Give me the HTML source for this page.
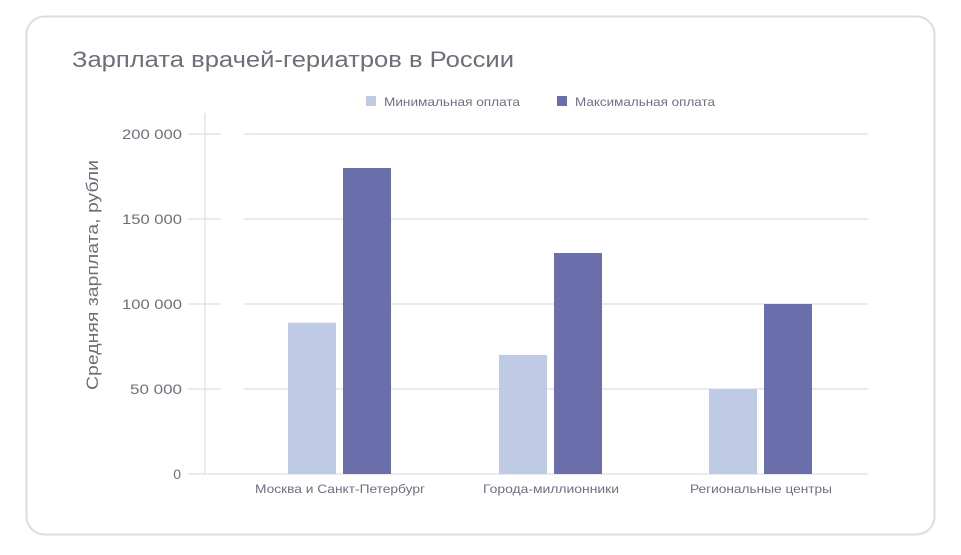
<!DOCTYPE html>
<html><head><meta charset="utf-8"><style>
body{margin:0;background:#fff;width:961px;height:550px;overflow:hidden}
</style></head><body>
<svg width="961" height="550" xmlns="http://www.w3.org/2000/svg" font-family="Liberation Sans, sans-serif">
<rect x="26.5" y="16.5" width="908" height="518" rx="18" fill="#fff" stroke="#dcdbe9" stroke-width="2"/>
<text x="72" y="67" font-size="22" fill="#6e6e7a" textLength="442" lengthAdjust="spacingAndGlyphs">Зарплата врачей-гериатров в России</text>
<rect x="366" y="96" width="10" height="10" fill="#bfcbe4"/>
<text x="384" y="106" font-size="12" fill="#6e6e85" textLength="136" lengthAdjust="spacingAndGlyphs">Минимальная оплата</text>
<rect x="557" y="96" width="10" height="10" fill="#6a6fab"/>
<text x="575" y="106" font-size="12" fill="#6e6e85" textLength="140" lengthAdjust="spacingAndGlyphs">Максимальная оплата</text>
<g stroke="#e4e4ee" stroke-width="1.5">
<line x1="244" y1="134" x2="868" y2="134"/><line x1="244" y1="219" x2="868" y2="219"/>
<line x1="244" y1="304" x2="868" y2="304"/><line x1="244" y1="389" x2="868" y2="389"/>
<line x1="188" y1="134" x2="221" y2="134"/><line x1="188" y1="219" x2="221" y2="219"/>
<line x1="188" y1="304" x2="221" y2="304"/><line x1="188" y1="389" x2="221" y2="389"/>
<line x1="205" y1="113" x2="205" y2="474"/>
<line x1="188" y1="474" x2="868" y2="474"/>
</g>
<g font-size="14" fill="#6e6e7a" text-anchor="end">
<text x="182" y="139" textLength="60" lengthAdjust="spacingAndGlyphs">200 000</text><text x="182" y="224" textLength="60" lengthAdjust="spacingAndGlyphs">150 000</text>
<text x="182" y="309" textLength="60" lengthAdjust="spacingAndGlyphs">100 000</text><text x="182" y="394" textLength="52" lengthAdjust="spacingAndGlyphs">50 000</text><text x="181" y="479">0</text>
</g>
<text transform="translate(98,275) rotate(-90)" font-size="17" fill="#6e6e7a" text-anchor="middle" textLength="230" lengthAdjust="spacingAndGlyphs">Средняя зарплата, рубли</text>
<g fill="#bfcbe4"><rect x="288" y="322.7" width="48" height="151.3"/><rect x="499" y="355" width="48" height="119"/><rect x="709" y="389" width="48" height="85"/></g>
<g fill="#6a6fab"><rect x="343" y="168" width="48" height="306"/><rect x="554" y="253" width="48" height="221"/><rect x="764" y="304" width="48" height="170"/></g>
<g font-size="12" fill="#6e6e85" text-anchor="middle">
<text x="340" y="493" textLength="170" lengthAdjust="spacingAndGlyphs">Москва и Санкт-Петербург</text><text x="551" y="493" textLength="136" lengthAdjust="spacingAndGlyphs">Города-миллионники</text><text x="761" y="493" textLength="142" lengthAdjust="spacingAndGlyphs">Региональные центры</text>
</g>
</svg>
</body></html>
